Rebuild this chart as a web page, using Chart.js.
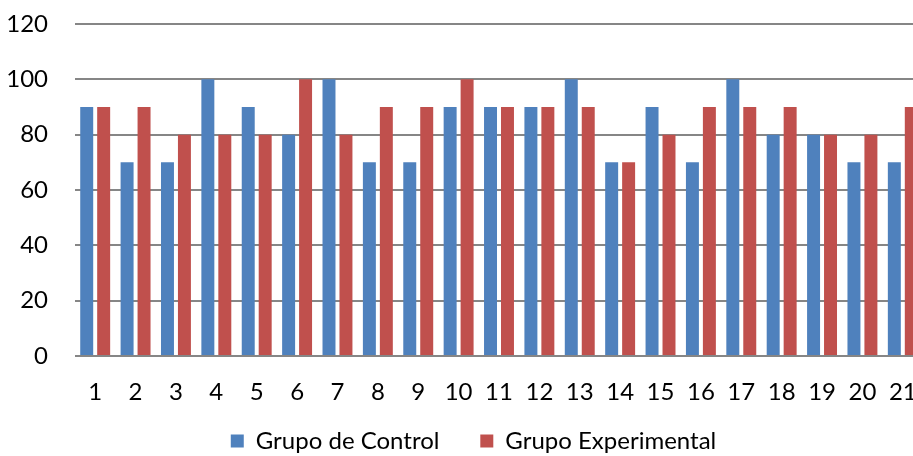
<!DOCTYPE html>
<html>
<head>
<meta charset="utf-8">
<script src="https://cdn.jsdelivr.net/npm/chart.js@4/dist/chart.umd.min.js"></script>
<style>
  html, body { margin: 0; padding: 0; background: #fff; overflow: hidden; }
  #wrap { width: 913px; height: 456px; overflow: hidden; position: relative; }
  canvas { display: block; }
</style>
</head>
<body>
<div id="wrap"><canvas id="c" width="940" height="463"></canvas></div>
<script>
// Puntuaciones por estudiante (1–21) en cada grupo
const categories = ['1','2','3','4','5','6','7','8','9','10','11','12','13','14','15','16','17','18','19','20','21'];
const grupoControl = [90, 70, 70, 100, 90, 80, 100, 70, 70, 90, 90, 90, 100, 70, 90, 70, 100, 80, 80, 70, 70];
const grupoExperimental = [90, 90, 80, 80, 80, 100, 80, 90, 90, 100, 90, 90, 90, 70, 80, 90, 90, 90, 80, 80, 90];
const yTicks = [0, 20, 40, 60, 80, 100, 120];

const font = "Lato, 'Open Sans', 'DejaVu Sans', sans-serif";

// nudges the centred legend a little to the right
const legendShift = {
  id: 'legendShift',
  afterLayout(chart) {
    if (chart.legend) { chart.legend.left += 12; chart.legend.right += 12; }
  }
};

new Chart(document.getElementById('c'), {
  type: 'bar',
  data: {
    labels: categories,
    datasets: [
      { label: 'Grupo de Control', data: grupoControl, backgroundColor: '#4F81BD', borderWidth: 0 },
      { label: 'Grupo Experimental', data: grupoExperimental, backgroundColor: '#C0504D', borderWidth: 0 }
    ]
  },
  plugins: [legendShift],
  options: {
    responsive: false,
    animation: false,
    devicePixelRatio: 1,
    layout: { padding: { top: 0, right: 17, left: 0, bottom: 0 } },
    datasets: { bar: { categoryPercentage: 0.84, barPercentage: 0.765 } },
    scales: {
      x: {
        afterFit: (axis) => { axis.height = 69; },
        grid: { display: false, drawTicks: false },
        border: { display: false },
        ticks: { color: '#000', font: { family: font, size: 24 }, padding: 22, maxRotation: 0, autoSkip: false }
      },
      y: {
        min: 0, max: 120,
        afterBuildTicks: (axis) => { axis.ticks = yTicks.map(v => ({ value: v })); },
        afterFit: (axis) => { axis.width = 75; axis.paddingTop = 24; },
        grid: { color: '#868686', lineWidth: 2, drawTicks: false },
        border: { display: false },
        ticks: { color: '#000', font: { family: font, size: 24 }, padding: 27 }
      }
    },
    plugins: {
      legend: {
        position: 'bottom',
        labels: {
          color: '#000',
          font: { family: font, size: 24 },
          boxWidth: 13, boxHeight: 13,
          padding: 4,
          generateLabels: (chart) => {
            const items = Chart.defaults.plugins.legend.labels.generateLabels(chart);
            items[0].text += '      ';
            return items;
          }
        }
      },
      tooltip: { enabled: false }
    }
  }
});
</script>
</body>
</html>
